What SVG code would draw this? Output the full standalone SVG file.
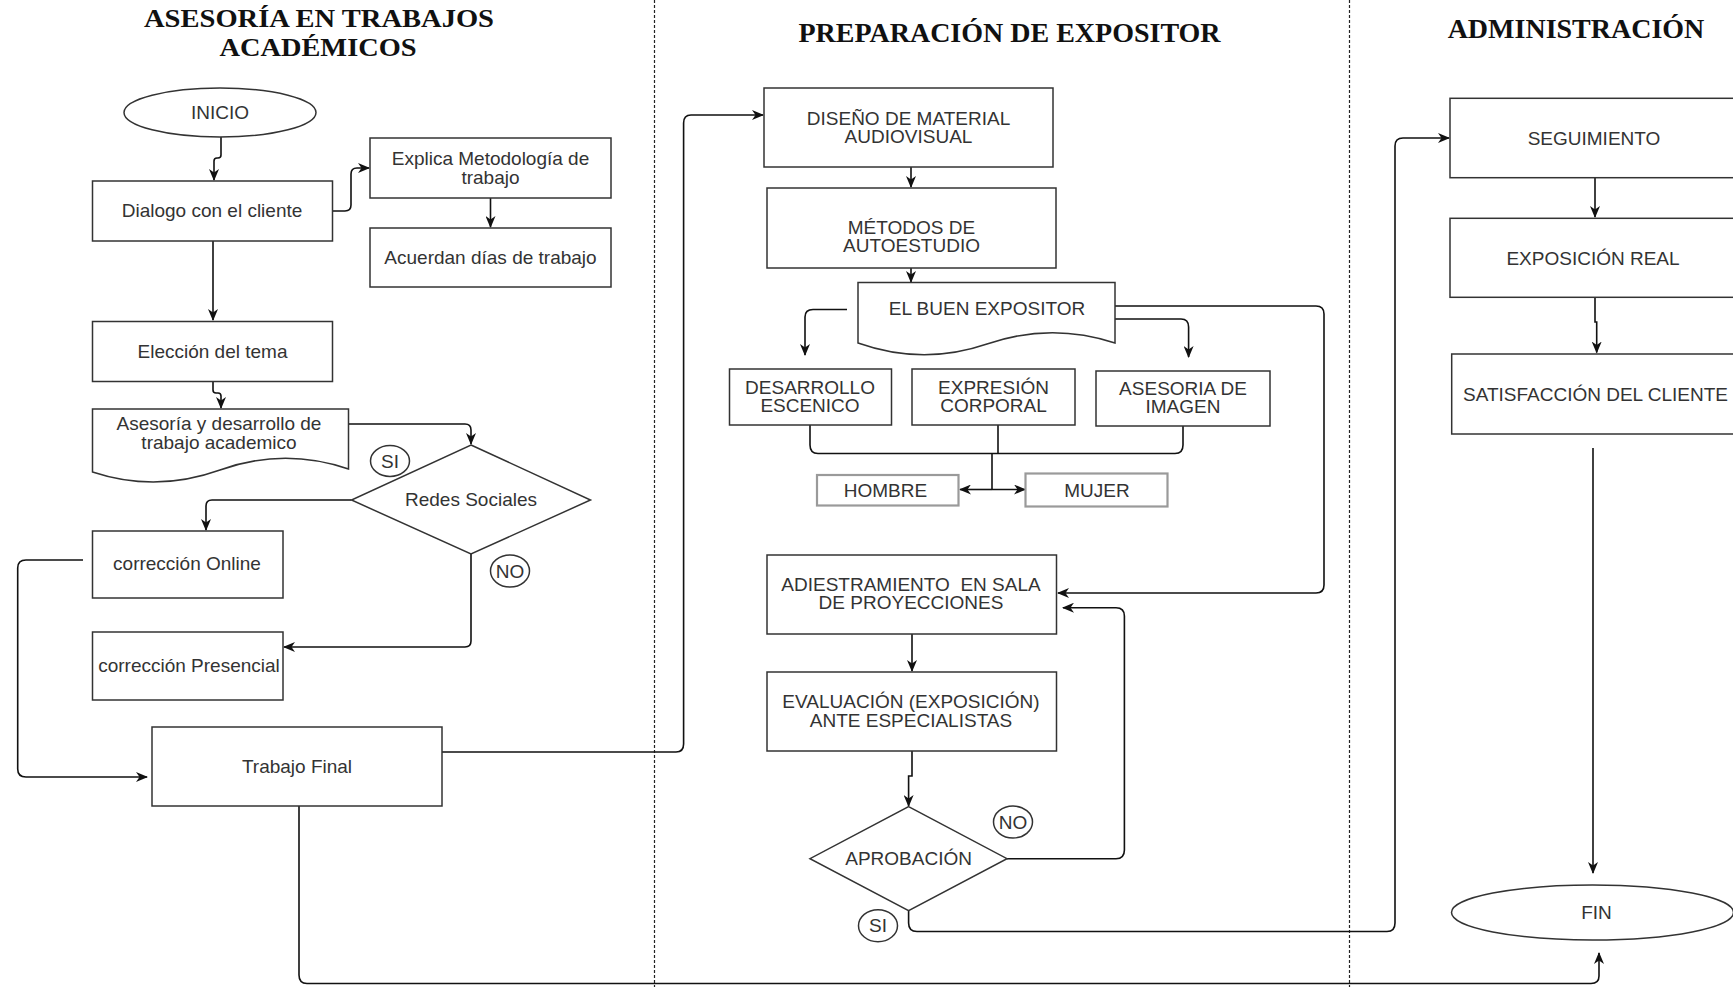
<svg xmlns="http://www.w3.org/2000/svg" width="1733" height="987" viewBox="0 0 1733 987">
<style>
.bg{fill:#ffffff}
.box{fill:#ffffff;stroke:#333333;stroke-width:1.5}
.gbox{fill:#ffffff;stroke:#9a9a9a;stroke-width:2.2}
.t{font-family:"Liberation Sans",Arial,sans-serif;font-size:19px;fill:#333333;text-anchor:middle}
.title{font-family:"Liberation Serif","Times New Roman",serif;font-size:28px;font-weight:bold;fill:#111111;text-anchor:middle}
.title2{font-family:"Liberation Serif","Times New Roman",serif;font-size:25px;font-weight:bold;fill:#111111;text-anchor:middle}
.lane{stroke:#222222;stroke-width:1.2;stroke-dasharray:3 2;fill:none}
.c{fill:none;stroke:#111111;stroke-width:1.6}
.ca{fill:none;stroke:#111111;stroke-width:1.6;marker-end:url(#arr)}
</style>
<defs>
<marker id="arr" viewBox="0 0 12 10" markerUnits="userSpaceOnUse" markerWidth="12" markerHeight="10" refX="11" refY="5" orient="auto">
<path d="M0,0 L12,5 L0,10 L3.5,5 Z" fill="#111111"/>
</marker>
</defs>
<rect class="bg" x="0" y="0" width="1733" height="987"/>

<g id="lanes">
<line class="lane" x1="654.5" y1="0" x2="654.5" y2="987"/>
<line class="lane" x1="1349.5" y1="0" x2="1349.5" y2="987"/>
<text class="title2" x="319" y="27" textLength="350" lengthAdjust="spacingAndGlyphs">ASESORÍA EN TRABAJOS</text>
<text class="title2" x="318" y="56" textLength="197" lengthAdjust="spacingAndGlyphs">ACADÉMICOS</text>
<text class="title" x="1009.5" y="42">PREPARACIÓN DE EXPOSITOR</text>
<text class="title" x="1576" y="37.5">ADMINISTRACIÓN</text>
</g>

<g id="connectors">
<path class="ca" d="M221 137 V155 Q221 158 218 158 H217 Q214 158 214 161 V180"/>
<path class="ca" d="M332.5 211 H345 Q351 211 351 205 V174 Q351 168 357 168 H369"/>
<path class="ca" d="M490.5 198 V227"/>
<path class="ca" d="M213 241 V320"/>
<path class="ca" d="M213 381.5 V390 Q213 393 216 393 H218 Q221 393 221 396 V408"/>
<path class="ca" d="M348.5 424 H465 Q471 424 471 430 V444"/>
<path class="ca" d="M351.5 500 H212 Q206 500 206 506 V530"/>
<path class="ca" d="M471 554 V641 Q471 647 465 647 H284"/>
<path class="ca" d="M83 560 H26 Q17.7 560 17.7 568 V769 Q17.7 777 26 777 H147"/>
<path class="ca" d="M442 752 H676 Q683.6 752 683.6 744 V123 Q683.6 115 691 115 H763"/>
<path class="ca" d="M299 806 V975 Q299 983.5 307 983.5 H1591 Q1599 983.5 1599 976 V953"/>
<path class="ca" d="M911 167 V187"/>
<path class="ca" d="M911 268 V282"/>
<path class="ca" d="M847 309.5 H813 Q805 309.5 805 317 V355"/>
<path class="ca" d="M1115 319 H1181 Q1188.6 319 1188.6 327 V357"/>
<path class="ca" d="M1115 306 H1316 Q1324 306 1324 314 V585 Q1324 593 1316 593 H1058"/>
<path class="c" d="M810 425 V445 Q810 453.5 818 453.5 H1175 Q1183 453.5 1183 445 V426"/>
<path class="c" d="M998 425 V453.5"/>
<path class="c" d="M992 453.5 V489.5"/>
<path class="ca" d="M992 489.5 H960"/>
<path class="ca" d="M992 489.5 H1025"/>
<path class="ca" d="M912 634 V671"/>
<path class="ca" d="M912 751 V776 H908.6 V806"/>
<path class="ca" d="M1007 858.7 H1116 Q1124.4 858.7 1124.4 850 V616 Q1124.4 607.7 1116 607.7 H1063"/>
<path class="ca" d="M908.6 910.7 V923 Q908.6 931.5 917 931.5 H1387 Q1395 931.5 1395 923 V146 Q1395 138 1403 138 H1449"/>
<path class="ca" d="M1595 177.7 V217"/>
<path class="ca" d="M1595 297.3 V322 H1596.7 V352.5"/>
<path class="ca" d="M1593 448 V873"/>
</g>

<g id="inicio">
<ellipse class="box" cx="220" cy="112.5" rx="96" ry="24.5"/>
<text class="t" x="220" y="119">INICIO</text>
</g>
<g id="dialogo">
<rect class="box" x="92.5" y="181" width="240" height="60"/>
<text class="t" x="212" y="217">Dialogo con el cliente</text>
</g>
<g id="explica">
<rect class="box" x="370" y="138" width="241" height="60"/>
<text class="t" x="490.5" y="165">Explica Metodología de</text>
<text class="t" x="490.5" y="184">trabajo</text>
</g>
<g id="acuerdan">
<rect class="box" x="370" y="228" width="241" height="59"/>
<text class="t" x="490.5" y="264">Acuerdan días de trabajo</text>
</g>
<g id="eleccion">
<rect class="box" x="92.5" y="321.5" width="240" height="60"/>
<text class="t" x="212.5" y="358">Elección del tema</text>
</g>
<g id="asesoria">
<path class="box" d="M92.5 409 H348.5 V469 Q284 447 220 470 Q156 493 92.5 472 Z"/>
<text class="t" x="219" y="430">Asesoría y desarrollo de</text>
<text class="t" x="219" y="449">trabajo academico</text>
</g>
<g id="redes">
<polygon class="box" points="471,445 590.5,500 471,554 351.5,500"/>
<text class="t" x="471" y="506">Redes Sociales</text>
</g>
<g id="si1">
<ellipse class="box" cx="390" cy="461" rx="19.5" ry="15.5"/>
<text class="t" x="390" y="467.5">SI</text>
</g>
<g id="online">
<rect class="box" x="92.5" y="531" width="190.5" height="67"/>
<text class="t" x="187" y="570">corrección Online</text>
</g>
<g id="no1">
<ellipse class="box" cx="510" cy="571" rx="19.5" ry="16"/>
<text class="t" x="510" y="577.5">NO</text>
</g>
<g id="presencial">
<rect class="box" x="92.5" y="632" width="190.5" height="68"/>
<text class="t" x="189" y="672">corrección Presencial</text>
</g>
<g id="trabajofinal">
<rect class="box" x="152" y="727" width="290" height="79"/>
<text class="t" x="297" y="772.5">Trabajo Final</text>
</g>

<g id="diseno">
<rect class="box" x="764" y="88" width="289" height="79"/>
<text class="t" x="908.5" y="125">DISEÑO DE MATERIAL</text>
<text class="t" x="908.5" y="143">AUDIOVISUAL</text>
</g>
<g id="metodos">
<rect class="box" x="767" y="188" width="289" height="80"/>
<text class="t" x="911.5" y="234">MÉTODOS DE</text>
<text class="t" x="911.5" y="252">AUTOESTUDIO</text>
</g>
<g id="buenexpositor">
<path class="box" d="M858 282.5 H1115 V343 Q1051 322 987 344 Q923 366 858 343 Z"/>
<text class="t" x="987" y="315">EL BUEN EXPOSITOR</text>
</g>
<g id="desarrollo">
<rect class="box" x="729.5" y="369" width="162" height="56"/>
<text class="t" x="810" y="394">DESARROLLO</text>
<text class="t" x="810" y="412">ESCENICO</text>
</g>
<g id="expresion">
<rect class="box" x="912" y="369" width="163" height="56"/>
<text class="t" x="993.5" y="394">EXPRESIÓN</text>
<text class="t" x="993.5" y="412">CORPORAL</text>
</g>
<g id="imagen">
<rect class="box" x="1096" y="371" width="174" height="55"/>
<text class="t" x="1183" y="395">ASESORIA DE</text>
<text class="t" x="1183" y="413">IMAGEN</text>
</g>
<g id="hombre">
<rect class="gbox" x="817" y="475" width="141.5" height="30.5"/>
<text class="t" x="885.5" y="496.5">HOMBRE</text>
</g>
<g id="mujer">
<rect class="gbox" x="1025.5" y="473.5" width="142" height="33"/>
<text class="t" x="1097" y="496.5">MUJER</text>
</g>
<g id="adiestramiento">
<rect class="box" x="767" y="555" width="289.5" height="79"/>
<text class="t" x="911" y="591" xml:space="preserve">ADIESTRAMIENTO  EN SALA</text>
<text class="t" x="911" y="609">DE PROYECCIONES</text>
</g>
<g id="evaluacion">
<rect class="box" x="767" y="672" width="289.5" height="79"/>
<text class="t" x="911" y="708">EVALUACIÓN (EXPOSICIÓN)</text>
<text class="t" x="911" y="727">ANTE ESPECIALISTAS</text>
</g>
<g id="aprobacion">
<polygon class="box" points="908.6,806.7 1007,858.7 908.6,910.7 810,858.7"/>
<text class="t" x="908.6" y="864.5">APROBACIÓN</text>
</g>
<g id="no2">
<ellipse class="box" cx="1013" cy="822" rx="19.5" ry="16"/>
<text class="t" x="1013" y="828.5">NO</text>
</g>
<g id="si2">
<ellipse class="box" cx="878" cy="925.7" rx="19.5" ry="16"/>
<text class="t" x="878" y="932">SI</text>
</g>

<g id="seguimiento">
<rect class="box" x="1450" y="98.3" width="290" height="79.4"/>
<text class="t" x="1594" y="144.5">SEGUIMIENTO</text>
</g>
<g id="exposicionreal">
<rect class="box" x="1450" y="218.3" width="290" height="79"/>
<text class="t" x="1593" y="264.5">EXPOSICIÓN REAL</text>
</g>
<g id="satisfaccion">
<rect class="box" x="1451.7" y="354" width="290" height="80"/>
<text class="t" x="1595.5" y="400.5">SATISFACCIÓN DEL CLIENTE</text>
</g>
<g id="fin">
<ellipse class="box" cx="1592.5" cy="912.5" rx="141" ry="27.5"/>
<text class="t" x="1596.5" y="919">FIN</text>
</g>
</svg>
